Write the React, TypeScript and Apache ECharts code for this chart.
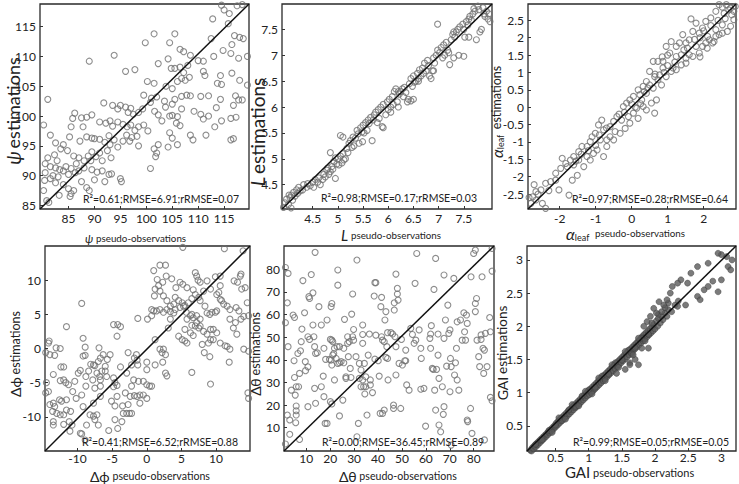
import React, { useEffect, useRef } from "react";
import * as echarts from "echarts";

// ---------- data (pseudo-observation, estimation) ----------
const psiPoints: number[][] = [
  [114.5,118.6],[115,117.8],[116,117.2],[115.8,115.5],[112.8,116.3],[117.5,118.5],[118.5,118.7],
  [101.5,113.8],[105.5,113.8],[99.8,112.3],[104.5,112.3],[106.5,111.2],[107.2,110.8],[108.5,110.2],[89,109.2],[93.8,110.2],[104.2,109.6],[110,109.3],[111,109.2],[113,110],[116.3,110.5],[117,113.5],[118,113.2],[118.7,113],[119.5,110],[117.8,109.7],[112.5,113],[116.5,112],[114.8,111],
  [96,107.5],[97.8,107.8],[102.3,108.8],[104.8,108],[105.5,108],[106.5,108.2],[107.2,107.3],[108,108.5],[108.3,106.5],[106.8,106.3],[107.5,106],[111,107.5],[111.3,106.8],[113.7,105.5],[114.5,105.3],[114.3,106.8],[116.5,107.2],[118,106],[119.5,105.2],[100.2,105.8],[101.5,105.5],[103.8,105],[105,104.6],[106,105.8],
  [81,102.8],[91.8,102.2],[93.5,101.8],[95,101.8],[96,101.5],[97,101.3],[94.5,101.2],[99.5,103.5],[101,103],[102,103.2],[100.8,102.3],[103.5,102.5],[103.7,101.5],[105,102],[105.5,102.8],[106.8,103.3],[107.8,103.5],[108.5,103.4],[110.5,103.3],[112,103.4],[114.3,102.8],[117.2,103.4],[117.8,102.7],[118.5,102.7],[116.8,101.8],[113.5,101.4],[98.5,100.6],[99.3,101.2],[104.5,100],[105,100.1],[106,99.9],[110.5,100.3],[111,99.5],[112,100],[114.5,99.2],[116.3,99.6],[117.3,99.8],[109.2,100.8],[106.8,101.2],[101.6,100.8],[102.3,100.2],[96.5,100.6],[97.5,100.3],
  [80.2,98.5],[85.8,99.6],[86.2,100.5],[87.5,99.7],[88.5,99.8],[89.5,100.2],[85.5,98.2],[87.8,98.2],[91,99],[92.2,98.8],[93,99.2],[93.5,98.3],[94.5,99],[95.5,98.6],[96.3,98.2],[97,98.5],[97.8,97.6],[98.5,98.2],[99.5,98.5],[100.3,97.5],[96.2,96.8],[97.2,96.4],[98.2,96.6],[96.8,95.8],[95.5,95.8],[103,99.2],[104.5,97.2],[105,96.3],[105.8,98.8],[106.5,98.4],[108.5,96.8],[109,96],[111.5,96.8],[113.2,98.2],[116.3,96],[116.8,96.2],[81.5,96.8],[82.5,95.5],[84,95.2],[88.5,96.5],[89.5,96.3],[90,96.2],[91,96.1],[92,95.6],[93,95.2],[94.5,94.8],[87.2,95.8],[85.2,96.5],[101.5,94.5],[102.3,95.2],[104.2,94.8],[106,95.2],[98.5,95],[92.8,96.7],[93.8,96],
  [81,93],[82.3,93.5],[83.5,94.5],[84.8,94.2],[86,93.3],[87,93],[88,92.5],[88.8,93.3],[89.5,94],[90.3,93.2],[91,93.8],[91.5,92.5],[92.5,94.2],[93.2,93],[80.5,92],[81.5,91.5],[82.5,91.3],[83.3,91],[84,90.8],[84.5,91.5],[85.5,91.2],[86.3,90.5],[87,90.8],[88,91.3],[89.5,91],[90.5,90.6],[91.5,90.8],[92.8,90.2],[93.3,90.3],[100.8,91.2],[101.8,93.2],[102,93.8],[82.8,92.5],[86.5,92],[89.3,92.5],[85,90.2],[82,90],[80.5,90.5],[81.5,89.5],[83,89.8],
  [80.4,89.2],[82.5,88.8],[84,88.5],[85,87.8],[86,87.5],[87.5,89],[89,87.5],[90,89.3],[92,89],[95,89.5],[95.2,89],[83.2,86.7],[85.5,87],[85.3,86.5],[80.8,85.8],[81.2,85.5],[80.2,87.5],[88.5,88]
];

const lPoints: number[][] = [
  [3.92,4.06],[3.95,4.15],[3.98,4.22],[4.02,4.12],[4.05,4.25],[4.08,4.3],[4.1,4.2],[4.12,4.35],[4.15,4.28],[4.18,4.4],[4.2,4.33],[4.25,4.38],[4.03,4.3],[4.07,4.05],[4.22,4.45],[4.3,4.4],[4.32,4.5],[4.38,4.45],[4.4,4.52],[4.45,4.48],[4.5,4.55],[4.52,4.45],[4.55,4.6],[4.6,4.55],[4.62,4.63],[4.65,4.5],[4.7,4.6],[4.72,4.7],[4.75,4.65],[4.78,4.78],[4.8,4.82],[4.82,4.7],[4.85,4.75],[4.88,4.85],[4.9,4.8],[4.92,4.95],[4.95,4.62],[4.98,4.9],[5.0,5.0],[5.02,4.88],[5.05,5.05],[5.08,4.92],[5.1,5.1],[5.12,4.98],[5.15,5.0],[5.18,5.2],[5.2,5.12],[5.05,5.45],[5.1,5.42],[4.85,5.12],[4.95,5.02],[5.22,5.3],[5.25,5.35],[5.28,5.22],[5.3,5.42],[5.32,5.25],[5.35,5.4],[5.38,5.55],[5.4,5.48],[5.42,5.3],[5.45,5.6],[5.48,5.52],[5.5,5.65],[5.52,5.5],[5.55,5.7],[5.58,5.55],[5.6,5.75],[5.62,5.68],[5.65,5.8],[5.49,5.33],[5.7,5.75],[5.72,5.85],[5.75,5.9],[5.78,5.7],[5.8,5.95],[5.82,5.78],[5.85,6.0],[5.88,5.62],[5.9,6.05],[5.95,5.85],[5.98,6.1],[6.0,5.95],[6.02,6.15],[6.05,5.9],[6.08,6.2],[6.1,6.05],[6.12,6.3],[6.15,6.35],[6.18,6.1],[6.2,6.0],[6.22,6.25],[6.25,6.3],[6.28,6.35],[6.3,6.2],[6.32,6.38],[6.35,6.28],[6.38,6.1],[6.4,6.15],[6.42,6.45],[6.45,6.55],[6.48,6.4],[6.5,6.6],[6.52,6.48],[6.55,6.5],[6.58,6.65],[6.6,6.55],[6.62,6.72],[6.65,6.6],[6.68,6.75],[6.7,6.65],[6.72,6.85],[6.75,6.7],[6.78,6.9],[6.8,6.8],[6.82,6.6],[6.85,6.55],[6.88,6.7],[6.9,6.95],[6.92,6.85],[6.95,7.0],[6.98,7.1],[6.98,7.6],[7.02,7.05],[7.05,7.15],[7.08,6.95],[7.1,7.2],[7.12,7.0],[7.15,7.25],[7.18,7.1],[7.3,6.95],[7.22,6.82],[7.25,7.3],[7.28,7.4],[7.3,7.45],[7.32,7.35],[7.35,7.45],[7.38,7.5],[7.4,7.0],[7.42,7.55],[7.5,6.98],[7.48,7.6],[7.5,7.5],[7.52,7.35],[7.55,7.65],[7.58,7.58],[7.6,7.7],[7.62,7.75],[7.65,7.68],[7.68,7.8],[7.7,7.9],[7.72,7.85],[7.75,7.3],[7.78,7.95],[7.8,7.88],[7.82,7.45],[7.85,7.5],[7.88,7.92],[7.9,7.8],[7.92,7.75],[7.95,7.85],[7.98,7.7],[8.0,7.8],[8.02,7.65],[7.6,7.35],[6.2,6.3],[6.05,6.0],[5.9,5.6],[6.6,6.5],[7.2,7.05],[6.9,6.7],[5.68,5.35],[6.45,6.12],[6.5,6.15]
];

const alphaPoints: number[][] = [
  [2.43,2.95],[2.52,2.88],[2.63,2.95],[2.7,2.8],[2.78,2.66],[2.84,2.52],[2.57,2.7],[2.34,2.76],[2.2,2.57],[2.06,2.47],[2.52,2.37],[2.34,2.23],[2.43,2.09],[2.11,2.04],[1.97,2.28],[1.79,2.42],[1.65,2.54],[1.88,2.13],[1.7,2.18],[1.6,1.94],[1.51,1.85],[1.42,2.09],[1.33,1.85],[1.24,1.75],[1.1,1.89],[0.96,1.75],[1.79,1.75],[2.06,1.85],[2.25,1.85],[1.6,1.51],[1.51,1.41],[1.38,1.51],[1.24,1.46],[1.06,1.56],[0.87,1.32],[0.73,1.32],[0.6,1.32],[1.15,1.13],[1.1,1.03],[0.87,1.13],[0.78,0.93],[0.64,0.88],[0.5,1.03],[0.41,0.74],[0.5,0.64],[0.32,0.6],[0.18,0.5],[0.23,0.36],[0.05,0.31],[-0.05,0.21],[-0.14,0.12],[-0.23,0.02],[0.14,-0.03],[0.32,0.02],[0.41,-0.08],[0.55,0.12],[0.69,0.21],[0.64,-0.17],[0.05,-0.17],[-0.09,-0.27],[-0.28,-0.37],[-0.41,-0.27],[-0.5,-0.41],[-0.6,-0.56],[-0.78,-0.65],[-0.83,-0.37],[-0.92,-0.51],[-1.01,-0.75],[-1.1,-0.85],[-1.15,-0.99],[-1.24,-1.13],[-1.38,-1.13],[-1.47,-1.28],[-1.61,-1.42],[-1.7,-1.52],[-1.83,-1.62],[-1.93,-1.47],[-1.79,-1.71],[-1.97,-1.76],[-2.11,-1.9],[-2.11,-2.1],[-2.25,-2.14],[-2.39,-2.19],[-2.52,-2.38],[-2.66,-2.43],[-2.75,-2.58],[-2.66,-2.67],[-2.48,-2.77],[-2.39,-2.91],[-2.8,-2.77],[-2.71,-2.23],[-2.02,-2.38],[-1.74,-2.53],[-1.65,-2.1],[-1.51,-1.96],[-1.33,-1.71],[-1.15,-1.52],[-0.96,-1.23],[-0.87,-0.94],[-0.69,-0.94],[-0.6,-0.85],[-0.46,-0.7],[-1.61,-1.66],[-1.47,-1.52],[-1.24,-1.42],[-1.06,-1.33],[-0.78,-1.42],[-0.69,-1.13],[-0.5,-0.94],[-0.32,-0.75],[-0.18,-0.61],[-0.05,-0.46],[0.18,-0.32],[0.28,0.21],[0.41,0.4],[0.6,0.55],[0.73,0.79],[0.83,0.64],[0.96,0.88],[1.24,1.08],[1.38,1.22],[1.51,1.27],[1.7,1.46],[1.88,1.56],[1.97,1.75],[2.16,1.94],[2.29,1.89],[2.34,2.04],[2.52,2.13],[2.66,2.18],[2.75,2.33],[2.84,2.76],
  [-0.35,-0.2],[0.0,0.1],[0.1,0.0],[-0.2,-0.15],[0.25,0.1],[1.45,1.65],[1.55,1.7],[1.75,1.95],[1.9,2.0],[2.0,2.2],[2.2,2.35],[2.4,2.5],[2.6,2.55],[2.75,2.85],[2.88,2.9],[-0.7,-0.6],[-0.9,-0.8],[-1.2,-1.25],[-1.4,-1.35],[-1.55,-1.55],[-1.0,-1.1],[0.9,1.0],[1.0,1.2],[1.2,1.3],[0.35,0.45],[0.45,0.55],[-2.3,-2.4],[-2.6,-2.5],[-2.85,-2.6],[2.1,1.7],[1.9,1.45],[0.65,0.95],[0.85,1.45],[1.0,1.5]
];

const dphiPoints: number[][] = [
  [5.2,14.8],[11.2,14.6],[13.9,14.3],[1.0,11.4],[1.9,12.2],[2.7,12.2],[1.5,10.1],[2.8,10.6],[3.6,10.2],[2.3,9.7],[1.7,9.2],[1.2,8.7],[1.9,8.4],[1.1,7.7],[4.2,8.9],[4.8,9.7],[5.2,9.4],[5.8,8.9],[6.7,8.6],[7.0,11.1],[7.2,10.6],[7.4,10.0],[7.7,9.7],[8.2,8.4],[8.7,9.9],[9.2,8.7],[9.9,10.5],[10.6,10.6],[10.6,9.2],[10.4,8.2],[10.1,7.9],[10.6,7.2],[10.8,7.0],[11.1,6.5],[11.6,6.2],[12.0,5.7],[12.6,9.9],[13.1,9.7],[13.5,10.6],[13.6,10.9],[13.7,8.7],[14.2,8.9],[14.5,6.7],[12.9,6.0],[13.3,5.5],[14.0,4.7],[14.7,4.8],[13.6,4.3],[12.8,3.8],[12.5,3.0],[12.0,4.3],[13.0,2.1],[14.0,-0.1],[14.7,-0.4],[14.6,-6.5],[14.7,-7.3],[11.6,0.3],[12.0,-0.1],[11.9,-2.0],[11.3,0.4],[10.6,0.8],[9.6,1.3],[9.2,1.3],[8.9,0.8],[10.1,2.3],[9.6,2.8],[9.2,2.8],[8.7,2.1],[8.2,2.5],[7.7,3.3],[7.2,3.8],[6.7,4.5],[6.3,4.8],[5.8,4.3],[5.7,5.3],[6.5,5.0],[7.2,4.8],[7.7,4.3],[7.5,3.0],[7.0,3.3],[6.3,2.3],[5.5,2.8],[5.1,1.3],[5.5,1.1],[5.8,0.8],[6.7,1.9],[8.3,-0.6],[9.1,-1.2],[8.0,0.6],[6.5,-3.5],[9.2,-5.2],[10.1,5.5],[9.9,5.3],[9.4,5.3],[9.1,5.0],[8.7,5.2],[8.4,6.2],[7.7,7.0],[7.5,7.5],[7.0,7.9],[6.5,7.3],[6.0,6.7],[5.5,6.3],[5.1,6.7],[4.6,7.0],[4.1,7.5],[3.9,6.5],[3.4,6.2],[2.9,5.7],[2.4,5.3],[1.9,5.7],[1.4,5.5],[1.0,5.5],[0.7,5.7],[3.4,5.4],[4.1,5.7],[4.8,6.0],[5.3,6.2],[2.9,7.0],[2.4,7.7],[0.1,4.3],[-1.3,4.4],[-4.8,3.5],[-4.2,3.5],[-3.8,3.2],[-4.3,1.8],[-9.4,6.6],[-9.2,1.5],[-11.6,3.2],[-14.1,1.1],[-14.2,0.8],[-13.1,0.1],[-12.5,0.0],[-14.0,-0.9],[-14.6,-0.6],[-13.3,-1.0],[-12.4,-2.7],[-12.0,-2.7],[-13.5,-3.8],[-14.5,-5.0],[-14.6,-6.5],[-14.2,-6.3],[-14.0,-8.2],[-13.5,-8.0],[-13.3,-8.5],[-13.6,-9.2],[-13.0,-9.5],[-12.6,-7.5],[-12.3,-7.7],[-11.6,-7.5],[-12.5,-9.7],[-12.0,-9.7],[-13.5,-10.7],[-13.5,-11.2],[-12.0,-11.1],[-11.2,-10.7],[-10.8,-11.2],[-11.1,-12.1],[-11.6,-9.0],[-11.0,-9.2],[-10.7,-6.3],[-10.4,-4.8],[-12.5,-4.7],[-12.0,-4.6],[-11.7,-5.0],[-11.3,-5.3],[-9.9,-3.6],[-10.2,-7.3],[-9.6,-12.4],[-9.4,-12.5],[-8.9,-13.4],[-8.7,-11.2],[-8.2,-9.7],[-7.7,-9.9],[-7.5,-10.4],[-7.2,-9.7],[-7.0,-11.2],[-9.2,-8.5],[-9.4,-6.8],[-8.8,-5.5],[-8.8,-4.1],[-8.4,-3.3],[-9.6,-3.2],[-9.2,-1.1],[-8.9,-1.0],[-8.9,0.2],[-8.1,-2.3],[-7.7,-2.4],[-7.5,-2.5],[-6.9,0.1],[-6.7,-1.4],[-7.0,-1.9],[-7.2,-3.6],[-6.5,-3.3],[-6.8,-4.1],[-6.7,-4.6],[-7.8,-4.6],[-7.5,-5.8],[-6.7,-5.5],[-6.7,-7.0],[-7.7,-8.0],[-6.0,-3.3],[-6.0,-2.6],[-5.7,-1.6],[-5.3,-0.9],[-6.3,-0.9],[-5.8,-4.1],[-4.8,-4.3],[-4.6,-5.0],[-4.3,-5.4],[-4.8,-5.6],[-5.1,-7.7],[-4.3,-7.0],[-4.6,-8.4],[-4.6,-10.4],[-4.2,-11.7],[-5.5,-12.0],[-3.6,-10.7],[-3.4,-9.5],[-3.5,-8.4],[-3.1,-6.5],[-2.9,-3.6],[-3.8,-2.7],[-2.7,-0.6],[-2.2,-2.4],[-1.8,-1.4],[-1.5,-0.9],[-1.4,-1.7],[-1.3,-2.4],[-1.9,-4.6],[-2.2,-5.5],[-1.8,-6.9],[-2.4,-7.0],[-2.7,-8.2],[-2.5,-9.5],[-2.9,-9.5],[-2.2,-9.5],[-1.4,-7.0],[-1.0,-6.8],[-0.5,-6.8],[0.0,-7.3],[-1.0,-8.0],[0.0,-5.3],[0.4,-5.5],[0.7,-5.5],[-0.5,-4.8],[-1.2,-4.8],[0.0,-2.0],[1.2,1.3],[0.0,-3.1],[1.2,-2.4],[1.9,-0.1],[2.4,-0.1],[2.2,-0.6],[2.3,-2.0],[2.7,-0.9],[2.7,-3.6],[2.9,-4.0],[3.1,3.0],[4.6,1.8],[3.4,4.3],[3.9,5.2],[0.7,4.8],[6.5,3.4]
];

const dthetaPoints: number[][] = [
  [1.3,80.8],[2.4,78.2],[2.1,65.2],[1.3,56.4],[2.4,45.8],[2.1,15.6],[1.3,2.8],[3.1,13.4],[3.1,7.1],[3.8,26.6],[4.5,59.8],[5.1,58.7],[4.9,39.6],[5.1,32.2],[5.8,28.1],[5.4,24.4],[5.8,19.6],[5.8,17.5],[5.8,15.6],[5.6,12.2],[6.8,28.1],[7.2,4.8],[7.2,34.0],[6.5,42.8],[7.6,44.0],[7.9,48.0],[8.2,53.6],[9.3,60.8],[8.6,75.0],[9.6,39.2],[9.7,35.2],[10.7,36.9],[10.7,50.2],[11.4,49.0],[10.7,19.3],[11.4,67.1],[11.1,67.9],[12.1,77.7],[12.8,69.6],[12.8,55.4],[13.2,50.2],[13.5,27.4],[13.5,45.8],[13.7,87.5],[13.9,42.8],[14.6,43.1],[13.9,20.8],[15.3,63.5],[16.3,55.4],[16.3,28.1],[17.4,45.1],[18.1,40.2],[17.4,23.7],[17.1,32.8],[17.9,11.9],[18.7,11.9],[18.7,57.6],[19.7,40.2],[20.4,39.9],[20.1,49.0],[20.7,48.7],[21.1,48.0],[20.4,63.5],[20.7,64.9],[21.1,42.1],[21.5,42.8],[21.8,45.1],[20.7,37.7],[20.1,21.5],[20.7,20.5],[21.8,31.1],[22.5,40.6],[22.9,45.8],[23.2,38.4],[23.9,45.8],[23.9,38.7],[24.6,39.2],[23.2,79.7],[23.2,73.0],[23.9,15.2],[25.3,22.2],[25.7,38.7],[25.7,45.1],[26.0,57.9],[26.6,32.5],[26.6,31.8],[27.3,50.2],[27.3,47.3],[27.6,41.4],[28.0,48.0],[28.4,36.2],[28.7,32.2],[29.0,60.2],[29.4,69.1],[29.4,50.2],[29.8,53.4],[29.8,48.7],[30.8,41.4],[31.2,84.1],[31.2,6.0],[31.8,11.9],[32.2,38.4],[32.2,31.8],[32.9,28.1],[32.9,35.5],[33.6,55.4],[33.6,51.2],[33.6,47.3],[33.6,31.1],[34.0,28.1],[34.3,38.4],[34.5,24.9],[34.9,28.1],[34.9,32.5],[35.4,15.6],[35.9,42.1],[36.4,51.4],[36.8,31.1],[36.8,28.9],[37.7,25.5],[38.4,68.2],[38.7,74.1],[39.1,74.1],[38.7,40.3],[39.1,50.9],[40.1,39.6],[40.5,32.8],[40.9,16.3],[41.2,63.5],[41.5,67.6],[41.5,50.2],[41.9,48.7],[41.9,16.3],[42.6,17.8],[42.6,48.0],[42.9,57.6],[43.3,61.3],[43.3,41.1],[43.7,45.8],[44.0,40.6],[44.0,52.0],[44.2,31.1],[45.4,52.0],[46.1,51.4],[46.5,18.5],[46.5,20.0],[46.8,65.2],[46.8,62.0],[47.1,50.2],[47.5,45.8],[47.5,77.9],[47.5,33.3],[48.1,71.6],[48.1,69.1],[48.4,66.4],[48.8,38.4],[49.5,18.5],[49.8,49.0],[50.2,37.7],[51.2,39.6],[51.6,39.6],[51.6,44.3],[52.0,28.9],[53.0,26.6],[53.7,53.9],[54.4,51.2],[55.1,47.3],[55.5,73.8],[55.8,48.7],[56.2,87.0],[57.2,53.2],[57.9,45.1],[57.9,27.0],[58.1,40.6],[59.2,27.4],[59.9,10.7],[61.7,49.5],[62.0,51.4],[62.0,45.1],[62.3,55.1],[62.7,36.2],[63.1,35.8],[63.4,71.1],[63.7,26.6],[64.1,84.8],[64.1,17.8],[64.5,35.8],[65.1,51.4],[65.1,42.1],[65.5,31.8],[65.5,11.2],[66.2,8.2],[66.9,28.1],[67.3,15.9],[67.6,49.5],[67.6,19.3],[67.6,77.5],[68.2,57.6],[68.7,37.2],[69.2,64.2],[69.6,51.7],[70.1,53.2],[70.1,25.9],[70.3,40.6],[70.6,37.0],[70.6,2.3],[71.7,76.0],[72.0,33.3],[72.4,38.7],[72.8,45.1],[73.1,56.8],[73.1,31.1],[73.8,26.6],[74.5,57.6],[75.2,48.7],[75.9,60.8],[76.2,52.4],[76.6,48.7],[77.0,59.8],[77.3,56.1],[77.3,13.4],[77.5,12.7],[78.7,18.5],[78.9,76.7],[79.3,7.5],[80.0,87.0],[80.7,88.5],[80.7,64.9],[81.2,67.1],[80.7,61.3],[81.4,48.7],[82.1,41.4],[82.5,37.0],[83.1,51.0],[83.1,49.0],[83.5,76.7],[83.9,45.1],[84.2,34.0],[84.5,44.3],[84.9,51.7],[84.5,4.6],[85.6,37.0],[86.7,58.7],[87.0,52.4],[87.0,23.4],[87.7,21.9],[87.7,89.2],[87.7,79.2]
];

const gaiPoints: number[][] = [
  [0.12,0.13],[0.14,0.12],[0.15,0.17],[0.17,0.15],[0.18,0.2],[0.2,0.18],[0.21,0.23],[0.23,0.21],[0.24,0.26],[0.26,0.24],[0.27,0.29],[0.29,0.27],[0.3,0.32],[0.32,0.3],[0.33,0.35],[0.35,0.33],[0.36,0.38],[0.38,0.36],[0.39,0.41],[0.41,0.39],[0.42,0.44],[0.44,0.42],[0.45,0.47],[0.47,0.45],[0.48,0.5],[0.5,0.48],[0.51,0.54],[0.53,0.51],[0.54,0.57],[0.56,0.54],[0.57,0.6],[0.59,0.57],[0.6,0.63],[0.62,0.6],[0.63,0.66],[0.65,0.63],[0.66,0.69],[0.68,0.65],[0.69,0.72],[0.71,0.68],[0.72,0.75],[0.74,0.71],[0.75,0.78],[0.77,0.74],[0.78,0.81],[0.8,0.77],[0.81,0.84],[0.83,0.8],[0.84,0.87],[0.86,0.83],[0.87,0.9],[0.89,0.86],[0.9,0.93],[0.92,0.89],[0.93,0.96],[0.95,0.92],[0.96,0.99],[0.98,0.95],[0.99,1.02],[1.01,0.97],[1.02,1.05],[1.04,1.0],[1.05,1.08],[1.07,1.03],[1.08,1.11],[1.1,1.06],[1.11,1.14],[1.13,1.09],[1.14,1.17],[1.16,1.12],[1.17,1.2],[1.19,1.15],[1.2,1.23],[1.22,1.18],[1.23,1.26],[1.25,1.21],[1.26,1.29],[1.28,1.24],[1.29,1.32],[1.31,1.27],[1.32,1.35],[1.34,1.3],[1.35,1.38],[1.37,1.33],[1.38,1.41],[1.4,1.36],[1.41,1.44],[1.43,1.39],[1.44,1.47],[1.46,1.42],[1.47,1.5],[1.49,1.45],[1.5,1.53],[1.52,1.48],[1.53,1.56],[1.55,1.51],[1.56,1.59],[1.58,1.54],[1.59,1.62],[1.61,1.57],[1.62,1.65],[1.64,1.6],[1.65,1.68],[1.67,1.63],[1.68,1.71],[1.7,1.66],[1.71,1.74],[1.73,1.69],[1.74,1.77],[1.76,1.72],[1.77,1.8],[1.79,1.75],[1.8,1.84],[1.82,1.78],[1.83,1.87],[1.85,1.81],[1.86,1.9],[1.88,1.84],[1.89,1.93],[1.91,1.87],[1.92,1.96],[1.94,1.9],[1.95,1.99],[1.97,1.93],[1.98,2.03],[2.0,1.96],[2.02,2.08],[2.04,2.0],[2.05,2.12],[2.08,2.05],[2.1,2.15],[2.12,2.1],[2.15,2.2],[2.18,2.15],[2.2,2.25],[2.25,2.22],[2.3,2.32],[2.35,2.38],
  [0.2,0.22],[0.3,0.29],[0.4,0.43],[0.5,0.51],[0.6,0.58],[0.7,0.74],[0.8,0.79],[0.9,0.95],[1.0,1.04],[1.1,1.08],[1.2,1.25],[1.3,1.28],[1.4,1.45],[1.5,1.49],[1.6,1.64],[1.7,1.68],[1.8,1.82],[1.9,1.88],[1.95,2.05],[0.45,0.4],[0.65,0.6],[0.85,0.8],[1.05,0.98],[1.25,1.18],[1.45,1.38],[1.65,1.58],[1.85,1.78],[0.55,0.62],[0.75,0.82],[0.95,1.02],[1.15,1.22],[1.35,1.42],[1.55,1.62],[1.75,1.82],[2.05,2.18],[2.1,2.22],[2.15,2.28],[2.2,2.35],[1.62,1.45],[1.7,1.5],[1.55,1.35],[1.75,1.42],
  [2.34,2.3],[2.46,2.32],[2.64,2.45],[2.68,2.4],[2.74,2.55],[2.8,2.6],[2.87,2.68],[2.95,2.52],[3.0,2.7],[3.1,2.9],[3.14,2.85],[3.16,3.0],[3.08,3.05],[3.0,3.08],[2.95,3.1],[2.8,2.95],[2.64,2.9],[2.54,2.8],[2.49,2.65],[2.39,2.7],[2.34,2.65],[2.26,2.6],[2.23,2.5],[2.18,2.4],[2.13,2.32],[2.06,2.37],[2.02,2.2],[1.98,2.27],[1.93,2.15],[1.88,2.07],[1.83,2.0],[1.8,1.67],[1.9,1.67],[1.62,1.42],[1.42,1.29],[1.67,1.57]
];

// tick values
const psiTicks = [85, 90, 95, 100, 105, 110, 115];
const lTicks = [4.5, 5, 5.5, 6, 6.5, 7, 7.5];
const alphaXTicks = [-2, -1, 0, 1, 2];
const alphaYTicks = [-2.5, -2, -1.5, -1, -0.5, 0, 0.5, 1, 1.5, 2, 2.5];
const dphiTicks = [-10, -5, 0, 5, 10];
const dthetaTicks = [10, 20, 30, 40, 50, 60, 70, 80];
const gaiTicks = [0.5, 1, 1.5, 2, 2.5, 3];

const statTexts = [
  "R²=0.61;RMSE=6.91;rRMSE=0.07",
  "R²=0.98;RMSE=0.17;rRMSE=0.03",
  "R²=0.97;RMSE=0.28;rRMSE=0.64",
  "R²=0.41;RMSE=6.52;rRMSE=0.88",
  "R²=0.00;RMSE=36.45;rRMSE=0.89",
  "R²=0.99;RMSE=0.05;rRMSE=0.05",
];

// ---------- layout ----------
const FONT = "Lato, 'DejaVu Sans', sans-serif";
const panels = [
  { pts: psiPoints, grid: { left: 40, top: 4, width: 209, height: 205 }, x: [79.5, 119.8], y: [84.4, 118.8], xt: psiTicks, yt: psiTicks, filled: false, stat: [83, 199], xm: 3 },
  { pts: lPoints, grid: { left: 282, top: 4, width: 210, height: 205 }, x: [3.89, 8.06], y: [4.03, 7.99], xt: lTicks, yt: lTicks, filled: false, stat: [321, 198], xm: 3 },
  { pts: alphaPoints, grid: { left: 528, top: 4, width: 208, height: 205 }, x: [-2.88, 2.9], y: [-2.93, 2.97], xt: alphaXTicks, yt: alphaYTicks, filled: false, stat: [572, 199], xm: 3 },
  { pts: dphiPoints, grid: { left: 45, top: 246, width: 205, height: 205 }, x: [-14.7, 14.9], y: [-15, 15], xt: dphiTicks, yt: dphiTicks, filled: false, stat: [82, 442], xm: 1 },
  { pts: dthetaPoints, grid: { left: 284, top: 246, width: 210, height: 205 }, x: [0.7, 88.5], y: [-0.3, 90.3], xt: dthetaTicks, yt: dthetaTicks, filled: false, stat: [322, 442], xm: 1 },
  { pts: gaiPoints, grid: { left: 527, top: 246, width: 209, height: 205 }, x: [0.07, 3.22], y: [0.12, 3.21], xt: gaiTicks, yt: gaiTicks, filled: true, stat: [573, 442], xm: 0 },
];

const RICH: any = {
  big: { fontFamily: FONT, fontSize: 18, color: "#222" },
  bigi: { fontFamily: FONT, fontSize: 19, fontStyle: "italic", color: "#222" },
  l: { fontFamily: FONT, fontSize: 19, color: "#222" },
  li: { fontFamily: FONT, fontSize: 20, fontStyle: "italic", color: "#222" },
  m: { fontFamily: FONT, fontSize: 12.5, color: "#222" },
  mg: { fontFamily: FONT, fontSize: 13.5, color: "#222" },
  a: { fontFamily: FONT, fontSize: 16, fontStyle: "italic", color: "#222", lineHeight: 18, verticalAlign: "middle" },
  sub: { fontFamily: FONT, fontSize: 9, color: "#222", lineHeight: 9, verticalAlign: "bottom" },
  s: { fontFamily: FONT, fontSize: 9.8, color: "#222" },
  s2: { fontFamily: FONT, fontSize: 10.6, color: "#222" },
  s3: { fontFamily: FONT, fontSize: 11, color: "#222" },
  si: { fontFamily: FONT, fontSize: 11.5, fontStyle: "italic", color: "#222" },
  xl: { fontFamily: FONT, fontSize: 15, fontStyle: "italic", color: "#222" },
  g: { fontFamily: FONT, fontSize: 14, color: "#222" },
  g2: { fontFamily: FONT, fontSize: 15, color: "#222" },
};

function rtxt(text: string, x: number, y: number, rot: boolean) {
  return {
    type: "text",
    x,
    y,
    rotation: rot ? Math.PI / 2 : 0,
    z: 10,
    style: {
      text,
      rich: RICH,
      fontFamily: FONT,
      fontSize: 11,
      fill: "#222",
      align: rot ? "center" : "left",
      verticalAlign: "middle",
    },
  };
}

function buildOption() {
  const grid: any[] = [];
  const xAxis: any[] = [];
  const yAxis: any[] = [];
  const series: any[] = [];
  panels.forEach((p, i) => {
    grid.push({ ...p.grid, show: true, borderColor: "#2a2a2a", borderWidth: 1.3, backgroundColor: "transparent" });
    const common = (ticks: number[], margin: number) => ({
      type: "value",
      gridIndex: i,
      axisLine: { show: false, onZero: false },
      splitLine: { show: false },
      axisTick: { show: true, inside: true, length: 3, customValues: ticks, lineStyle: { color: "#333" } },
      axisLabel: { customValues: ticks, fontFamily: FONT, fontSize: 12, color: "#222", margin, formatter: (v: number) => String(v) },
    });
    xAxis.push({ ...common(p.xt, p.xm), min: p.x[0], max: p.x[1] });
    yAxis.push({ ...common(p.yt, 4), min: p.y[0], max: p.y[1] });
    series.push({
      type: "scatter",
      xAxisIndex: i,
      yAxisIndex: i,
      data: p.pts,
      symbol: "circle",
      symbolSize: p.filled ? 6 : 6,
      itemStyle: p.filled
        ? { color: "#5a5a5a", borderColor: "#3a3a3a", borderWidth: 0.6 }
        : { color: "rgba(0,0,0,0)", borderColor: "#707070", borderWidth: 1.1 },
      z: 2,
    });
    series.push({
      type: "line",
      xAxisIndex: i,
      yAxisIndex: i,
      data: [[p.x[0], p.y[0]], [p.x[1], p.y[1]]],
      symbol: "none",
      lineStyle: { color: "#111", width: 1.5 },
      z: 3,
    });
  });

  const graphic: any[] = [];
  panels.forEach((p, i) =>
    graphic.push({
      type: "text",
      x: p.stat[0],
      y: p.stat[1],
      z: 10,
      style: { text: statTexts[i], fontFamily: FONT, fontSize: 10.5, fill: "#222", align: "left", verticalAlign: "middle" },
    })
  );

  // y-axis names (vertical, read bottom to top)
  graphic.push(rtxt("{bigi|ψ} {big|estimations}", 13, 111, true));
  graphic.push(rtxt("{li|L} {l|estimations}", 257, 132, true));
  graphic.push(rtxt("{a|α}{sub|leaf}  {m|estimations}", 496, 112, true));
  graphic.push(rtxt("{g|Δϕ} {m|estimations}", 15, 354, true));
  graphic.push(rtxt("{g|Δθ} {m|estimations}", 255, 354, true));
  graphic.push(rtxt("{g|GAI} {mg|estimations}", 502, 353, true));

  // x-axis names
  graphic.push(rtxt("{si|ψ} {s|pseudo-observations}", 85, 238, false));
  graphic.push(rtxt("{xl|L} {s|pseudo-observations}", 341, 235, false));
  graphic.push(rtxt("{a|α}{sub|leaf}  {s|pseudo-observations}", 566, 233, false));
  graphic.push(rtxt("{g|Δϕ} {s2|pseudo-observations}", 90, 476, false));
  graphic.push(rtxt("{g|Δθ} {s2|pseudo-observations}", 339, 476, false));
  graphic.push(rtxt("{g2|GAI} {s3|pseudo-observations}", 565, 472, false));

  return { animation: false, backgroundColor: "#fff", grid, xAxis, yAxis, series, graphic };
}

export default function App() {
  const ref = useRef<HTMLDivElement>(null);
  useEffect(() => {
    if (!ref.current) return;
    const chart = echarts.init(ref.current, undefined, { renderer: "svg" });
    chart.setOption(buildOption() as any);
    return () => chart.dispose();
  }, []);
  return <div ref={ref} style={{ position: "fixed", left: 0, top: 0, width: 739, height: 484, background: "#fff" }} />;
}
